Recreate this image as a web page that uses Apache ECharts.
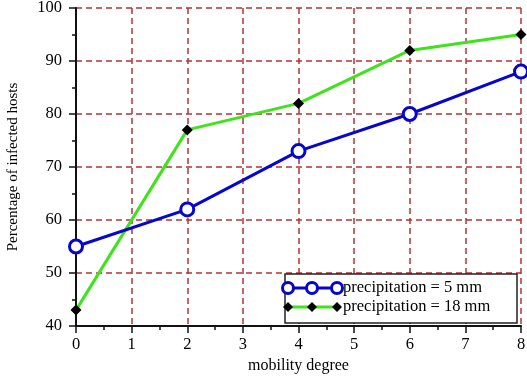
<!DOCTYPE html>
<html>
<head>
<meta charset="utf-8">
<script src="https://cdn.jsdelivr.net/npm/echarts@6/dist/echarts.min.js"></script>
<style>html,body{margin:0;padding:0;background:#fff}#c{width:527px;height:378px}</style>
</head>
<body>
<div id="c"></div>
<script>
const mobility = [0, 2, 4, 6, 8];
const precip5 = [55, 62, 73, 80, 88];
const precip18 = [43, 77, 82, 92, 95];
const seriesNames = ['precipitation = 5 mm', 'precipitation = 18 mm'];
const xTitle = 'mobility degree';
const yTitle = 'Percentage of infected hosts';

const FONT = '"Liberation Serif", "DejaVu Serif", serif';
const BLUE = '#0606cc';
const GREEN = '#3fe21c';
const GRIDC = '#b23434';

const chart = echarts.init(document.getElementById('c'), null, {renderer: 'canvas'});

function pairs(xs, ys) { return xs.map((x, i) => [x, ys[i]]); }

const axisCommon = {
  axisLine: {show: true, onZero: false, lineStyle: {color: '#111', width: 2}},
  axisTick: {show: true, inside: false, length: 7, lineStyle: {color: '#111', width: 1.5}},
  minorTick: {show: true, splitNumber: 2, length: 4, lineStyle: {color: '#111', width: 1.5}},
  splitLine: {show: true, showMinLine: false, showMaxLine: true, lineStyle: {color: GRIDC, width: 1.5, type: [6, 4]}},
  axisLabel: {color: '#000', fontFamily: FONT, fontSize: 16.5}
};

// legend built with graphic elements (sample line with three markers)
const lx0 = 288, lx1 = 337, lxm = 312;
const ly1 = 288, ly2 = 307;
const legendGraphic = [
  {type: 'rect', shape: {x: 285, y: 274, width: 232, height: 49}, style: {fill: '#fff', stroke: '#222', lineWidth: 1.5}, z: 100},
  {type: 'line', shape: {x1: lx0, y1: ly1, x2: lx1, y2: ly1}, style: {stroke: BLUE, lineWidth: 3}, z: 101},
  ...[lx0, lxm, lx1].map(x => ({type: 'circle', shape: {cx: x, cy: ly1, r: 5.5}, style: {fill: '#fff', stroke: BLUE, lineWidth: 3}, z: 102})),
  {type: 'text', style: {x: 343, y: ly1, text: seriesNames[0], font: '16.5px ' + FONT, fill: '#000', textVerticalAlign: 'middle', verticalAlign: 'middle'}, z: 102},
  {type: 'line', shape: {x1: lx0, y1: ly2, x2: lx1, y2: ly2}, style: {stroke: GREEN, lineWidth: 3}, z: 101},
  ...[lx0, lxm, lx1].map(x => ({type: 'polygon', shape: {points: [[x, ly2 - 5], [x + 5, ly2], [x, ly2 + 5], [x - 5, ly2]]}, style: {fill: '#000'}, z: 102})),
  {type: 'text', style: {x: 343, y: ly2, text: seriesNames[1], font: '16.5px ' + FONT, fill: '#000', textVerticalAlign: 'middle', verticalAlign: 'middle'}, z: 102}
];

chart.setOption({
  animation: false,
  backgroundColor: '#fff',
  grid: {left: 76, right: 6, top: 8, bottom: 52, containLabel: false, outerBoundsMode: 'none'},
  xAxis: Object.assign({}, axisCommon, {
    type: 'value', min: 0, max: 8, interval: 1,
    name: xTitle, nameLocation: 'middle', nameGap: 32,
    nameTextStyle: {color: '#000', fontFamily: FONT, fontSize: 16},
    axisLabel: Object.assign({}, axisCommon.axisLabel, {margin: 10})
  }),
  yAxis: Object.assign({}, axisCommon, {
    type: 'value', min: 40, max: 100, interval: 10,
    name: yTitle, nameLocation: 'middle', nameGap: 55, nameRotate: 90,
    nameTextStyle: {color: '#000', fontFamily: FONT, fontSize: 15},
    axisLabel: Object.assign({}, axisCommon.axisLabel, {margin: 14})
  }),
  series: [
    {
      name: seriesNames[0], type: 'line', data: pairs(mobility, precip5),
      lineStyle: {color: BLUE, width: 3}, symbol: 'circle', symbolSize: 13,
      itemStyle: {color: '#fff', borderColor: BLUE, borderWidth: 3},
      clip: false, z: 3
    },
    {
      name: seriesNames[1], type: 'line', data: pairs(mobility, precip18),
      lineStyle: {color: GREEN, width: 3}, symbol: 'diamond', symbolSize: [11, 11],
      itemStyle: {color: '#000', borderWidth: 0},
      clip: false, z: 2
    }
  ],
  graphic: legendGraphic
});
</script>
</body>
</html>
